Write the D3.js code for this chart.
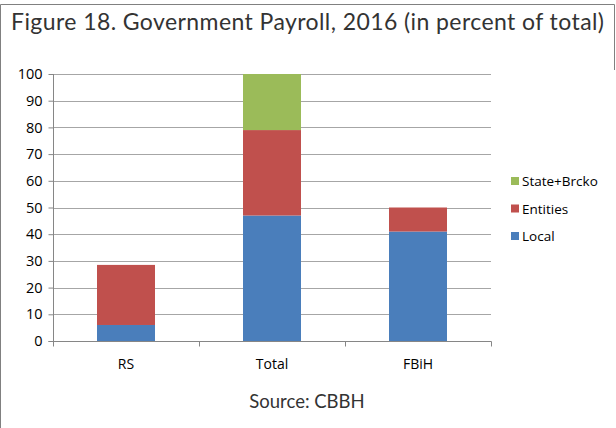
<!DOCTYPE html>
<html>
<head>
<meta charset="utf-8">
<script src="https://cdn.jsdelivr.net/npm/d3@7/dist/d3.min.js"></script>
<style>
  html, body { margin: 0; padding: 0; background: #fff; }
  svg { display: block; }
</style>
</head>
<body>
<svg id="chart" width="616" height="428"></svg>
<script>
// Government payroll shares by level, 2016
const categories = ["RS", "Total", "FBiH"];
const seriesNames = ["Local", "Entities", "State+Brcko"];
const local = [6, 47, 41];
const entities = [22.5, 32, 9];
const stateBrcko = [0, 21, 0];
const yTicks = [0, 10, 20, 30, 40, 50, 60, 70, 80, 90, 100];
const colors = ["#4a7ebb", "#c0504d", "#9bbb59"];

const rows = categories.map((c, i) => ({
  cat: c, "Local": local[i], "Entities": entities[i], "State+Brcko": stateBrcko[i]
}));

const svg = d3.select("#chart");
const W = 616, H = 428;
const plot = { left: 53, right: 491, top: 74, bottom: 341 };
const labelFont = "'Open Sans', 'DejaVu Sans', sans-serif";

// frame
svg.append("path")
  .attr("d", `M0.5,${H} V4.5 H614.5 V70`)
  .attr("fill", "none").attr("stroke", "#808080").attr("stroke-width", 1);

svg.append("text")
  .attr("x", 11).attr("y", 30)
  .attr("font-family", "Lato, 'Open Sans', sans-serif")
  .attr("font-size", 23).attr("fill", "#333")
  .attr("textLength", 593).attr("lengthAdjust", "spacing")
  .text("Figure 18. Government Payroll, 2016 (in percent of total)");

const x = d3.scaleBand().domain(categories).range([plot.left, plot.right]).paddingInner(0).paddingOuter(0);
const y = d3.scaleLinear().domain([0, 100]).range([plot.bottom, plot.top]);

// gridlines
svg.append("g").selectAll("line").data(yTicks.filter(t => t > 0)).join("line")
  .attr("x1", plot.left).attr("x2", plot.right)
  .attr("y1", d => Math.round(y(d)) + 0.5).attr("y2", d => Math.round(y(d)) + 0.5)
  .attr("stroke", "#a6a6a6").attr("stroke-width", 1);

// stacked bars
const stack = d3.stack().keys(seriesNames)(rows);
const barW = 58;
svg.append("g").selectAll("g").data(stack).join("g")
  .attr("fill", (d, i) => colors[i])
  .selectAll("rect").data(d => d.filter(s => s[1] - s[0] > 0)).join("rect")
  .attr("x", d => x(d.data.cat) + x.bandwidth() / 2 - barW / 2)
  .attr("width", barW)
  .attr("y", d => y(d[1]))
  .attr("height", d => y(d[0]) - y(d[1]));

// y axis
const yAxis = d3.axisLeft(y).tickValues(yTicks).tickSize(5).tickPadding(6);
const gy = svg.append("g").attr("transform", `translate(${plot.left + 0.5},0)`).call(yAxis);
gy.select(".domain").attr("stroke", "#868686").attr("d", `M-5,${plot.bottom + 0.5}H0V${plot.top}`);
gy.selectAll(".tick line").attr("stroke", "#868686");
gy.selectAll(".tick text")
  .attr("font-family", labelFont)
  .attr("font-size", 14.5).attr("fill", "#000");

// x axis with boundary ticks
const gx = svg.append("g").attr("transform", `translate(0,${plot.bottom + 0.5})`);
gx.append("line").attr("x1", plot.left).attr("x2", plot.right + 0.5)
  .attr("stroke", "#868686");
const bounds = categories.map(c => x(c)).concat([plot.right]);
gx.selectAll("line.b").data(bounds).join("line").attr("class", "b")
  .attr("x1", d => Math.round(d) + 0.5).attr("x2", d => Math.round(d) + 0.5)
  .attr("y1", 0).attr("y2", 5).attr("stroke", "#868686");
gx.selectAll("text").data(categories).join("text")
  .attr("x", d => x(d) + x.bandwidth() / 2).attr("y", 27)
  .attr("text-anchor", "middle")
  .attr("font-family", labelFont)
  .attr("font-size", 14).attr("fill", "#000")
  .text(d => d);

// legend
const legendOrder = [2, 1, 0];
const lg = svg.append("g").attr("transform", "translate(511,0)");
legendOrder.forEach((si, k) => {
  const cy = 181 + k * 27.5;
  lg.append("rect").attr("x", 0).attr("y", cy - 4).attr("width", 8).attr("height", 8).attr("fill", colors[si]);
  lg.append("text").attr("x", 11).attr("y", cy + 5)
    .attr("font-family", labelFont)
    .attr("font-size", 13.5).attr("fill", "#000")
    .text(seriesNames[si]);
});

svg.append("text")
  .attr("x", 307).attr("y", 408).attr("text-anchor", "middle")
  .attr("font-family", "Lato, 'Open Sans', sans-serif")
  .attr("font-size", 18.5).attr("fill", "#333")
  .text("Source: CBBH");
</script>
</body>
</html>
